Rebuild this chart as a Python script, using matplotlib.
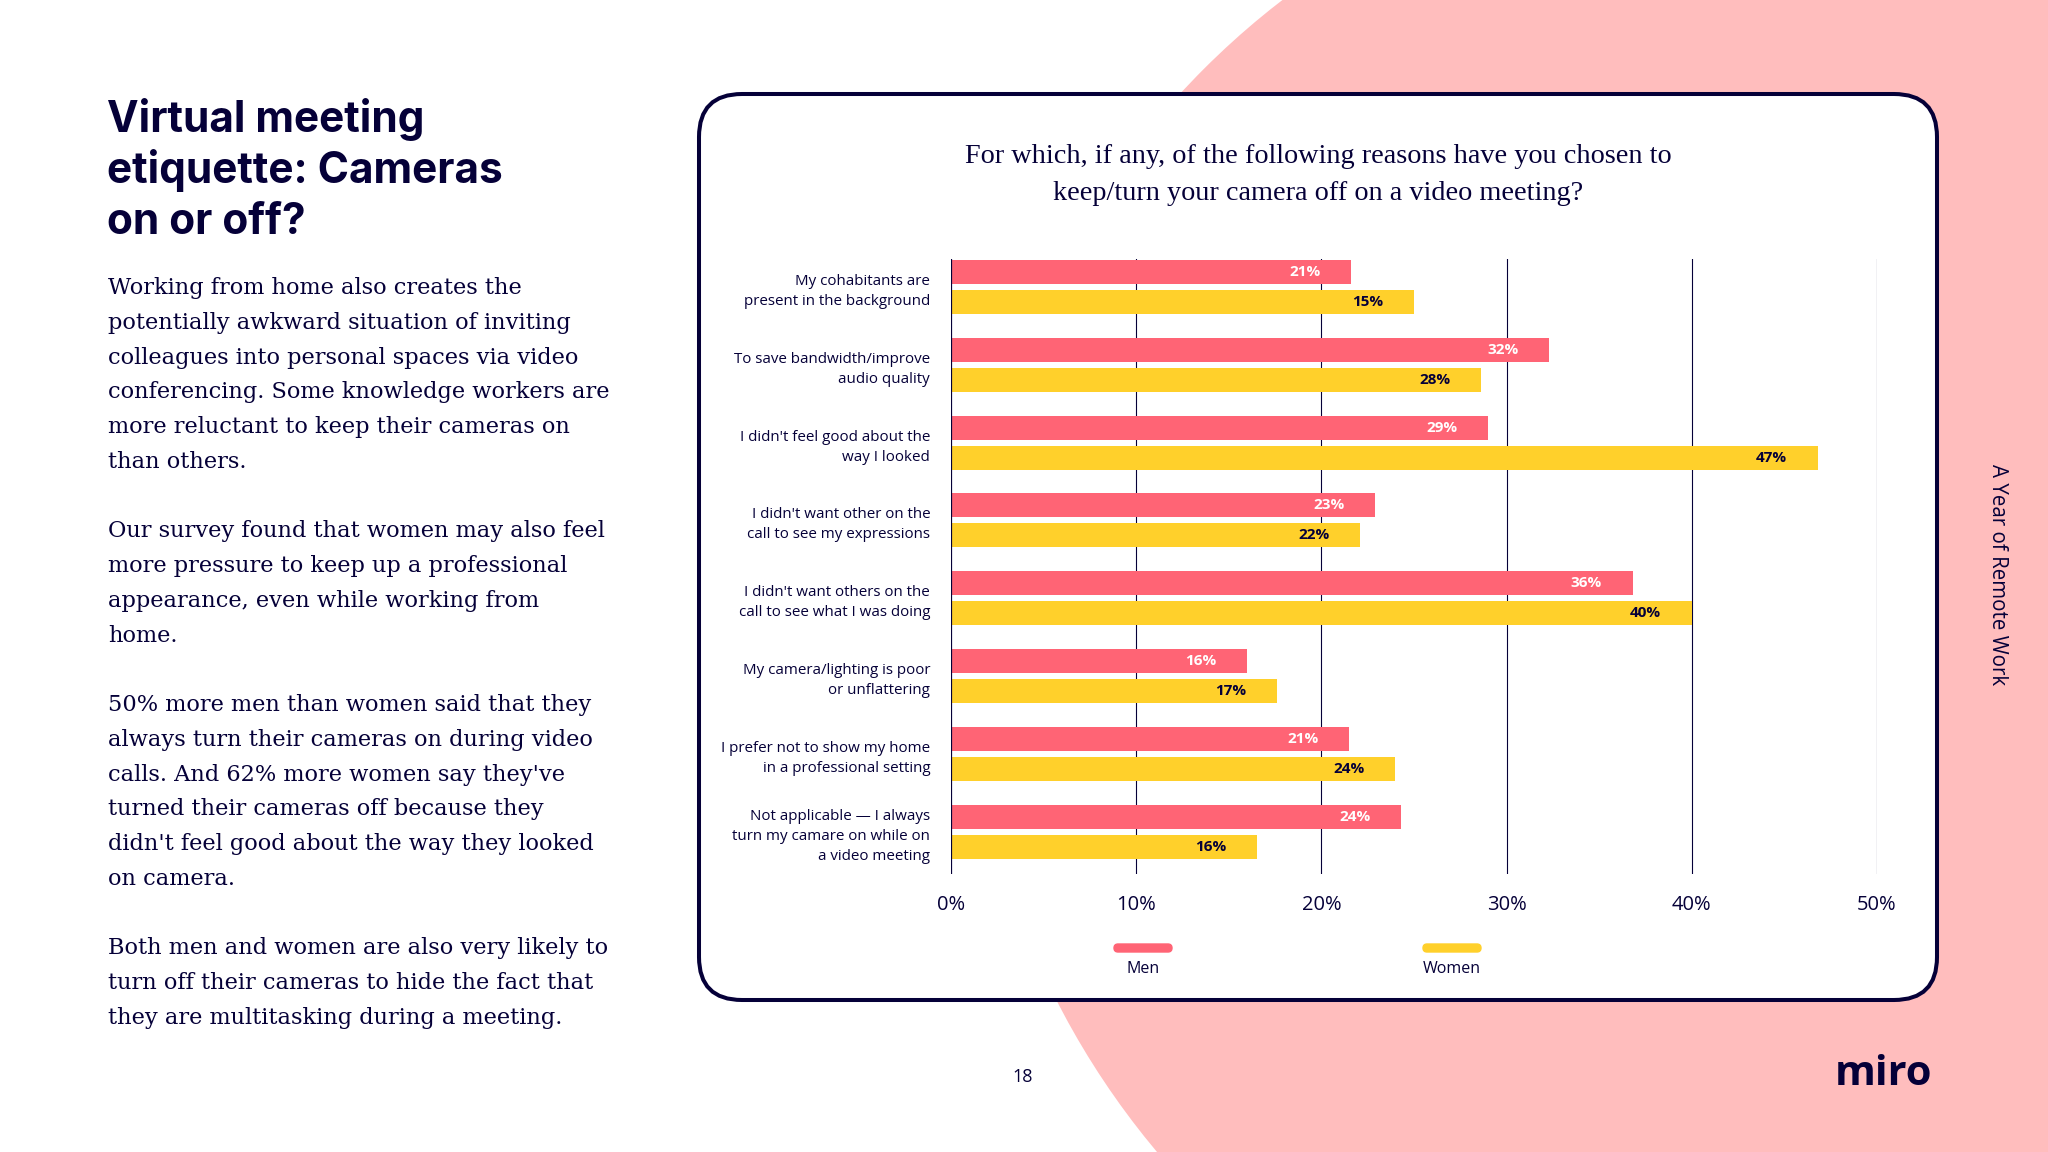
import matplotlib
matplotlib.use("Agg")
import matplotlib.pyplot as plt
from matplotlib.patches import Circle, FancyBboxPatch

# ---------------- data ----------------
categories = [
    "My cohabitants are\npresent in the background",
    "To save bandwidth/improve\naudio quality",
    "I didn't feel good about the\nway I looked",
    "I didn't want other on the\ncall to see my expressions",
    "I didn't want others on the\ncall to see what I was doing",
    "My camera/lighting is poor\nor unflattering",
    "I prefer not to show my home\nin a professional setting",
    "Not applicable \u2014 I always\nturn my camare on while on\na video meeting",
]
men_values = [21.6, 32.3, 29.0, 22.9, 36.8, 16.0, 21.5, 24.3]
women_values = [25.0, 28.6, 46.8, 22.1, 40.0, 17.6, 24.0, 16.5]
men_labels = ["21%", "32%", "29%", "23%", "36%", "16%", "21%", "24%"]
women_labels = ["15%", "28%", "47%", "22%", "40%", "17%", "24%", "16%"]
x_ticks = [0, 10, 20, 30, 40, 50]
x_tick_labels = ["0%", "10%", "20%", "30%", "40%", "50%"]
series_names = ["Men", "Women"]

title_lines = ["Virtual meeting", "etiquette: Cameras", "on or off?"]
body_lines = [
    "Working from home also creates the",
    "potentially awkward situation of inviting",
    "colleagues into personal spaces via video",
    "conferencing. Some knowledge workers are",
    "more reluctant to keep their cameras on",
    "than others.",
    "",
    "Our survey found that women may also feel",
    "more pressure to keep up a professional",
    "appearance, even while working from",
    "home.",
    "",
    "50% more men than women said that they",
    "always turn their cameras on during video",
    "calls. And 62% more women say they've",
    "turned their cameras off because they",
    "didn't feel good about the way they looked",
    "on camera.",
    "",
    "Both men and women are also very likely to",
    "turn off their cameras to hide the fact that",
    "they are multitasking during a meeting.",
]
question_lines = ["For which, if any, of the following reasons have you chosen to",
                  "keep/turn your camera off on a video meeting?"]
side_text = "A Year of Remote Work"
page_number = "18"
logo_text = "miro"

# ---------------- styles ----------------
NAVY = "#050038"
PINK_BG = "#FFBDBD"
MEN_C = "#FF6475"
WOMEN_C = "#FFD02B"
SANS = ["Open Sans", "DejaVu Sans"]
SERIF = ["Liberation Serif", "DejaVu Serif"]
BODY_SERIF = ["DejaVu Serif"]

W, H = 2048, 1152
fig = plt.figure(figsize=(W / 100, H / 100), dpi=100)
fig.patch.set_facecolor("white")

bg = fig.add_axes([0, 0, 1, 1])
bg.set_xlim(0, W)
bg.set_ylim(H, 0)
bg.axis("off")

bg.add_patch(Circle((1771, 636), 802, color=PINK_BG, lw=0, zorder=0))
bg.add_patch(FancyBboxPatch((699, 94), 1937 - 699, 1000 - 94,
                            boxstyle="round,pad=0,rounding_size=43",
                            fc="white", ec=NAVY, lw=2.9, zorder=1))

# left title
for i, line in enumerate(title_lines):
    bg.text(107, 132 + i * 51, line, fontsize=30.5, fontweight="bold",
            family=["Inter", "DejaVu Sans"], color=NAVY, ha="left", va="baseline", zorder=2)

# body text
for i, line in enumerate(body_lines):
    if line:
        bg.text(108, 294 + i * 34.76, line, fontsize=16.2, family=BODY_SERIF,
                color=NAVY, ha="left", va="baseline", zorder=2)

# question
for i, line in enumerate(question_lines):
    bg.text(1318, 163 + i * 37, line, fontsize=20.3, family=SERIF,
            color=NAVY, ha="center", va="baseline", zorder=2)

# side text, page number, logo
bg.text(1998, 575, side_text, rotation=270, fontsize=14.8, family=SANS,
        color=NAVY, ha="center", va="center", zorder=2)
bg.text(1023, 1077, page_number, fontsize=13, family=SANS, color=NAVY,
        ha="center", va="center", zorder=2)
bg.text(1883, 1085, logo_text, fontsize=30, fontweight="bold", family=SANS,
        color=NAVY, ha="center", va="baseline", zorder=2)

# legend
for name, col, cx in zip(series_names, [MEN_C, WOMEN_C], [1143, 1452]):
    bg.add_patch(FancyBboxPatch((cx - 29, 944), 58, 8,
                                boxstyle="round,pad=0,rounding_size=4",
                                fc=col, ec=col, lw=1, zorder=2))
    bg.text(cx, 969, name, fontsize=11.5, family=SANS, color=NAVY,
            ha="center", va="center", zorder=2)

# ---------------- chart ----------------
ax = fig.add_axes([951 / W, 1 - 874 / H, (1877 - 951) / W, (874 - 259) / H])
ax.patch.set_alpha(0)
for s in ax.spines.values():
    s.set_visible(False)

n = len(categories)
pos_m = list(range(n))
off = 0.386
bh = 0.31
pos_w = [p + off for p in pos_m]

for x in x_ticks[1:]:
    ax.axvline(x, color=NAVY, lw=0.8, zorder=1)
ax.axvline(0, color=NAVY, lw=1.6, zorder=3)

ax.barh(pos_m, men_values, height=bh, color=MEN_C, zorder=2)
ax.barh(pos_w, women_values, height=bh, color=WOMEN_C, zorder=2)

for v, lab, p in zip(men_values, men_labels, pos_m):
    ax.annotate(lab, (v, p), xytext=(-22, 0), textcoords="offset points",
                ha="right", va="center", fontsize=11, fontweight="bold",
                family=SANS, color="white", zorder=4)
for v, lab, p in zip(women_values, women_labels, pos_w):
    ax.annotate(lab, (v, p), xytext=(-22, 0), textcoords="offset points",
                ha="right", va="center", fontsize=11, fontweight="bold",
                family=SANS, color=NAVY, zorder=4)

ax.set_xlim(0, 50)
ax.set_ylim(7.738, -0.167)
ax.set_xticks(x_ticks)
ax.set_xticklabels(x_tick_labels, fontsize=14.5, family=SANS, color=NAVY)
ax.set_yticks([p + off / 2 for p in pos_m])
ax.set_yticklabels(categories, fontsize=10.9, family=SANS, color=NAVY,
                   linespacing=1.45)
for lab in ax.get_yticklabels():
    lab.set_multialignment("right")
ax.tick_params(axis="x", length=0, pad=15)
ax.tick_params(axis="y", length=0, pad=15)

fig.savefig("out.png", dpi=100)
